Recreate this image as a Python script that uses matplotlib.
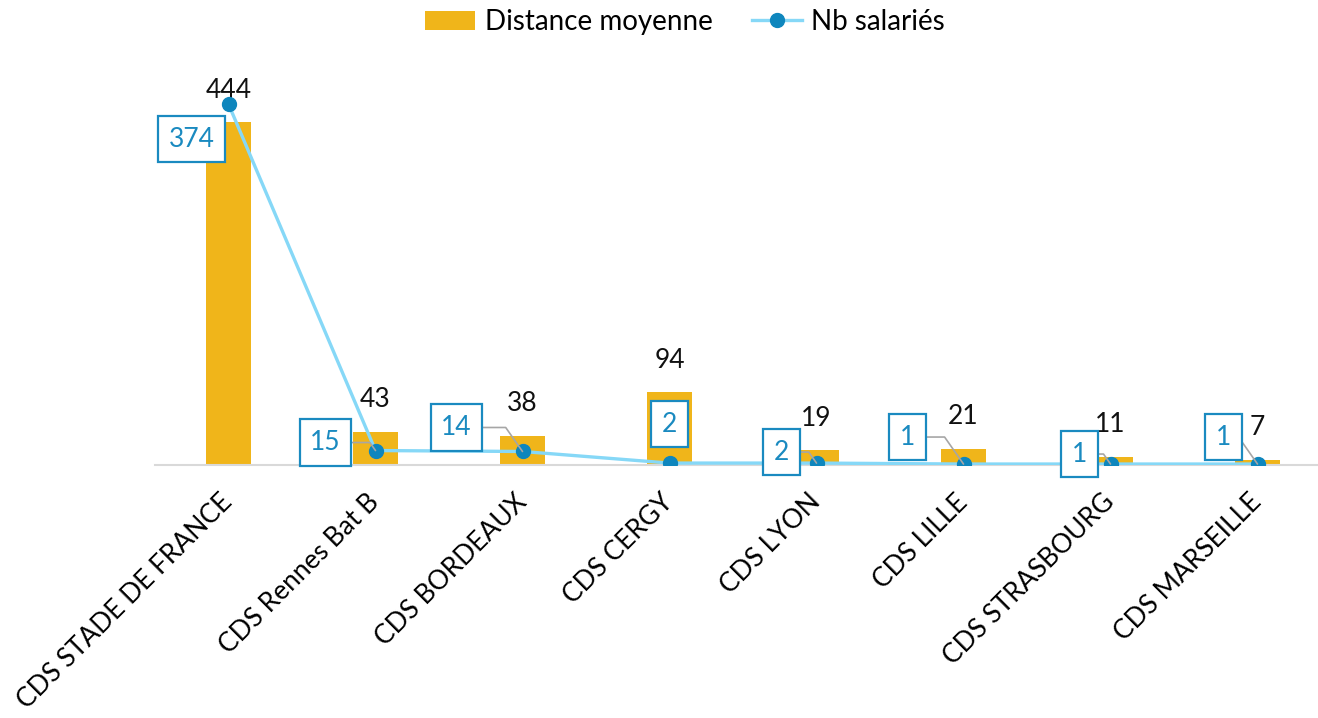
import matplotlib.pyplot as plt
from matplotlib.lines import Line2D
from matplotlib.patches import Patch

sites = ["CDS STADE DE FRANCE", "CDS Rennes Bat B", "CDS BORDEAUX", "CDS CERGY",
         "CDS LYON", "CDS LILLE", "CDS STRASBOURG", "CDS MARSEILLE"]
distance_moyenne = [444, 43, 38, 94, 19, 21, 11, 7]
nb_salaries = [374, 15, 14, 2, 2, 1, 1, 1]

# placement of the boxed labels (offset in pixels from each point) and leader lines
box_offsets = [(-37, -35), (-50, 8), (-66, 24), (0, 39), (-35, 11), (-56, 27), (-31, 10), (-34, 27)]
draw_leader = [False, True, True, False, True, True, True, True]

bar_color = "#F0B51A"
line_color = "#86D8F7"
marker_color = "#0E86BD"
label_blue = "#1A8AC0"

plt.rcParams["font.family"] = ["Lato", "DejaVu Sans"]
FS = 19

fig = plt.figure(figsize=(13.18, 7.18), dpi=100)
ax = fig.add_axes([155 / 1318, (718 - 465) / 718, 1176 / 1318, 386 / 718])
ax2 = ax.twinx()

x = list(range(len(sites)))
ax.bar(x, distance_moyenne, width=0.31, color=bar_color, zorder=2)
ax.set_xlim(-0.5, len(sites) - 0.5)
ax.set_ylim(0, 500)
ax2.set_ylim(0, 400)

ax2.plot(x, nb_salaries, color=line_color, linewidth=2.4, marker="o",
         markersize=10, markerfacecolor=marker_color, markeredgecolor=marker_color, zorder=3)

for a in (ax, ax2):
    for side in ("top", "right", "left"):
        a.spines[side].set_visible(False)
    a.set_yticks([])
ax2.spines["bottom"].set_visible(False)
ax.spines["bottom"].set_color("#D9D9D9")
ax.spines["bottom"].set_linewidth(1.5)

ax.set_xticks(x)
ax.set_xticklabels(sites, rotation=45, ha="right", va="center", rotation_mode="anchor", fontsize=FS)
ax.tick_params(axis="x", length=0, pad=24)

# bar values
for xi, v in zip(x, distance_moyenne):
    ax.annotate(str(v), (xi, v), xytext=(0, 32), textcoords="offset pixels",
                ha="center", va="center", fontsize=FS, color="#111111", zorder=5)

# boxed values for the line
for xi, v, (dx, dy), leader in zip(x, nb_salaries, box_offsets, draw_leader):
    arrow = None
    if leader:
        arrow = dict(arrowstyle="-", color="#A6A6A6", linewidth=1.2, shrinkA=0, shrinkB=0,
                     relpos=(1, 0.5), connectionstyle="angle,angleA=0,angleB=125,rad=0")
    ax2.annotate(str(v), (xi, v), xytext=(dx, dy), textcoords="offset pixels",
                 ha="center", va="center", fontsize=FS, color=label_blue,
                 bbox=dict(boxstyle="square,pad=0.4", facecolor="white", edgecolor=label_blue, linewidth=1.6),
                 arrowprops=arrow, zorder=6)

handles = [Patch(facecolor=bar_color, edgecolor="none"),
           Line2D([0], [0], color=line_color, linewidth=2.4, marker="o", markersize=10,
                  markerfacecolor=marker_color, markeredgecolor=marker_color)]
fig.legend(handles, ["Distance moyenne", "Nb salariés"], loc="center", bbox_to_anchor=(685 / 1318, 1 - 22 / 718),
           ncol=2, frameon=False, fontsize=20, handlelength=1.8, columnspacing=1.4, handletextpad=0.35)

fig.savefig("out.png", dpi=100)
